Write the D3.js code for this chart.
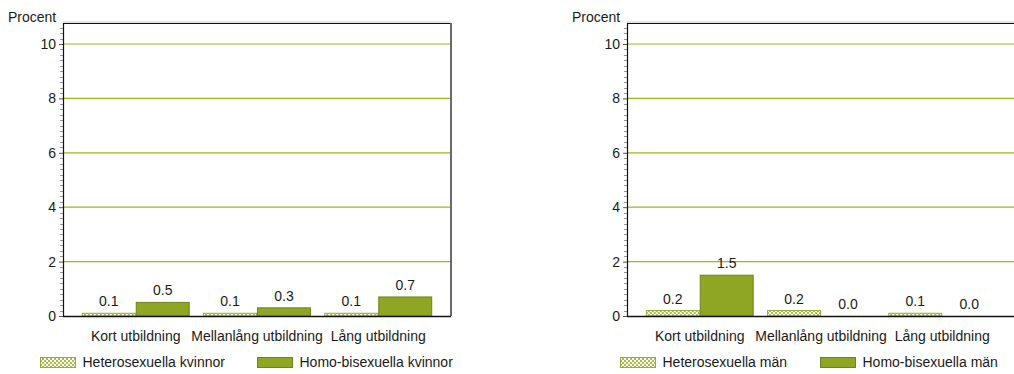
<!DOCTYPE html>
<html><head><meta charset="utf-8">
<script src="https://cdn.jsdelivr.net/npm/d3@7"></script>
<style>
html,body{margin:0;padding:0;background:#fff;}
svg{display:block;font-family:"Liberation Sans",Arial,sans-serif;}
</style></head>
<body>
<svg id="chart" width="1014" height="374"></svg>
<script>
const categories = ["Kort utbildning", "Mellanlång utbildning", "Lång utbildning"];
const womenHetero = [0.1, 0.1, 0.1];
const womenHomo = [0.5, 0.3, 0.7];
const menHetero = [0.2, 0.2, 0.1];
const menHomo = [1.5, 0.0, 0.0];
const seriesWomen = ["Heterosexuella kvinnor", "Homo-bisexuella kvinnor"];
const seriesMen = ["Heterosexuella män", "Homo-bisexuella män"];
const yTicks = [0, 2, 4, 6, 8, 10];
const yLabel = "Procent";

const FS = 14;
const svg = d3.select("#chart");
const defs = svg.append("defs");
const pat = defs.append("pattern").attr("id", "chk").attr("patternUnits", "userSpaceOnUse")
  .attr("width", 4).attr("height", 4);
pat.append("rect").attr("width", 4).attr("height", 4).attr("fill", "#ffffff");
pat.append("rect").attr("x", 0).attr("y", 0).attr("width", 2).attr("height", 2).attr("fill", "#a9bd4a");
pat.append("rect").attr("x", 2).attr("y", 2).attr("width", 2).attr("height", 2).attr("fill", "#a9bd4a");

const gridCol = "#a3b51e";
const homoFill = "#8fa524";
const homoStroke = "#6f8418";
const textCol = "#1a1a1a";

function drawPanel(opt) {
  const {left, right, hetero, homo, names, legendX} = opt;
  const top = 23, bottom = 316;
  const y = d3.scaleLinear().domain([0, 10]).range([bottom, 44]);
  const x0 = d3.scaleBand().domain(categories).range([left, right]).paddingInner(0.11).paddingOuter(0.155);
  const x1 = d3.scaleBand().domain(["h", "b"]).range([0, x0.bandwidth()]);
  const g = svg.append("g");

  g.selectAll(".grid").data(yTicks.filter(d => d > 0)).join("line")
    .attr("x1", left).attr("x2", right).attr("y1", d => y(d)).attr("y2", d => y(d))
    .attr("stroke", gridCol).attr("stroke-width", 1.2);

  g.append("line").attr("x1", left).attr("x2", right).attr("y1", top - 1).attr("y2", top - 1)
    .attr("stroke", "#c8c8c8").attr("stroke-width", 1);
  g.append("line").attr("x1", left).attr("x2", right).attr("y1", top + 0.5).attr("y2", top + 0.5)
    .attr("stroke", "#111").attr("stroke-width", 1);
  g.append("line").attr("x1", right).attr("x2", right).attr("y1", top).attr("y2", bottom)
    .attr("stroke", "#6a6a6a").attr("stroke-width", 2);

  const minor = d3.range(0, 10.8, 0.2).filter(v => Math.abs(v - Math.round(v / 2) * 2) > 1e-6);
  g.selectAll(".mt").data(minor).join("line")
    .attr("x1", left - 3).attr("x2", left).attr("y1", d => Math.round(y(d)) + 0.5).attr("y2", d => Math.round(y(d)) + 0.5)
    .attr("stroke", "#9a9a9a").attr("stroke-width", 1);

  const ax = d3.axisLeft(y).tickValues(yTicks).tickSize(4).tickPadding(3).tickFormat(d3.format("d"));
  const ag = g.append("g").attr("transform", `translate(${left},0)`).call(ax);
  ag.select(".domain").remove();
  ag.selectAll(".tick line").attr("stroke", "#555");
  ag.selectAll(".tick text").attr("font-size", FS).attr("fill", textCol).attr("font-family", "Liberation Sans, Arial, sans-serif");
  g.append("line").attr("x1", left + 0.5).attr("x2", left + 0.5).attr("y1", top).attr("y2", bottom + 0.5)
    .attr("stroke", "#111").attr("stroke-width", 1.2);

  g.append("text").attr("x", left - 55).attr("y", 22).attr("font-size", FS).attr("fill", textCol).text(yLabel);

  const data = categories.map((c, i) => ({c, h: hetero[i], b: homo[i]}));
  const grp = g.selectAll(".grp").data(data).join("g").attr("transform", d => `translate(${x0(d.c)},0)`);
  grp.each(function(d) {
    const gg = d3.select(this);
    [["h", d.h], ["b", d.b]].forEach(([k, v]) => {
      if (v > 0) {
        gg.append("rect").attr("x", x1(k) + 0.5).attr("width", x1.bandwidth() - 1)
          .attr("y", y(v)).attr("height", bottom - y(v))
          .attr("fill", k === "h" ? "url(#chk)" : homoFill)
          .attr("stroke", k === "h" ? "#97ab3a" : homoStroke).attr("stroke-width", 1);
      }
      gg.append("text").attr("x", x1(k) + x1.bandwidth() / 2).attr("y", y(v) - 7)
        .attr("text-anchor", "middle").attr("font-size", FS).attr("fill", textCol)
        .text(d3.format(".1f")(v));
    });
  });

  g.append("line").attr("x1", left).attr("x2", right).attr("y1", bottom + 0.5).attr("y2", bottom + 0.5)
    .attr("stroke", "#111").attr("stroke-width", 1.5);

  g.selectAll(".cl").data(categories).join("text")
    .attr("x", d => x0(d) + x0.bandwidth() / 2).attr("y", 341)
    .attr("text-anchor", "middle").attr("font-size", FS).attr("fill", textCol).text(d => d);

  names.forEach((n, i) => {
    const lx = legendX[i];
    g.append("rect").attr("x", lx).attr("y", 357.5).attr("width", 35).attr("height", 10)
      .attr("fill", i === 0 ? "url(#chk)" : homoFill).attr("stroke", i === 0 ? "#97ab3a" : homoStroke);
    g.append("text").attr("x", lx + 42).attr("y", 367).attr("font-size", FS).attr("fill", textCol).text(n);
  });
}

drawPanel({left: 63, right: 451, hetero: womenHetero, homo: womenHomo, names: seriesWomen, legendX: [40.5, 257.5]});
drawPanel({left: 627, right: 1015, hetero: menHetero, homo: menHomo, names: seriesMen, legendX: [620.5, 820.5]});
</script>
</body></html>
